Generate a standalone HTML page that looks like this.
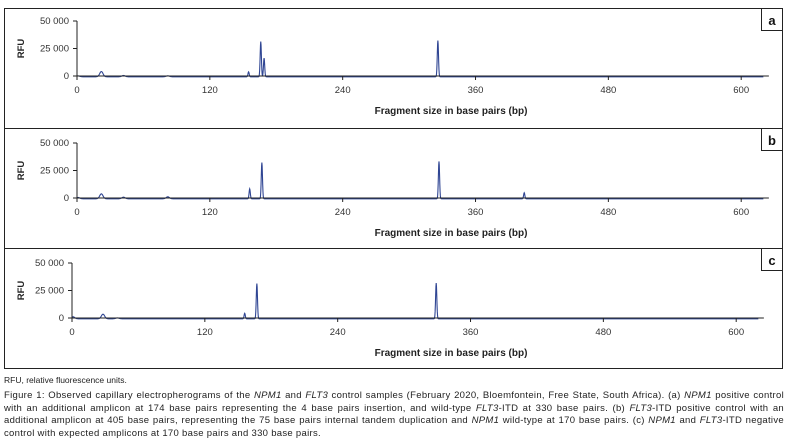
<!DOCTYPE html>
<html><head><meta charset="utf-8"><style>
body{margin:0;width:793px;height:447px;background:#fff;overflow:hidden;font-family:"Liberation Sans",sans-serif;}
svg{position:absolute;left:0;top:0}
.cap{position:absolute;left:4px;font-family:"Liberation Sans",sans-serif;color:#222;}
#note{top:375px;font-size:8.5px;}
#fig{top:390px;width:780px;font-size:9.5px;letter-spacing:0.3px;line-height:12.5px;text-align:justify;}
</style></head><body>
<svg id="chart" width="793" height="370"></svg>
<div id="note" class="cap">RFU, relative fluorescence units.</div>
<div id="fig" class="cap">Figure 1: Observed capillary electropherograms of the <i>NPM1</i> and <i>FLT3</i> control samples (February 2020, Bloemfontein, Free State, South Africa). (a) <i>NPM1</i> positive control with an additional amplicon at 174 base pairs representing the 4 base pairs insertion, and wild-type <i>FLT3</i>-ITD at 330 base pairs. (b) <i>FLT3</i>-ITD positive control with an additional amplicon at 405 base pairs, representing the 75 base pairs internal tandem duplication and <i>NPM1</i> wild-type at 170 base pairs. (c) <i>NPM1</i> and <i>FLT3</i>-ITD negative control with expected amplicons at 170 base pairs and 330 base pairs.</div>
<script>
const xTicks=[0,120,240,360,480,600];
const yTicks=[0,25000,50000];
const yTickLabels=["0","25 000","50 000"];
const panelLabels=["a","b","c"];
const peaksA_bp=[1,22,42,82,155,166,169,326];
const peaksA_h=[800,4800,1200,900,4500,32000,17000,33000];
const peaksB_bp=[1,22,42,82,156,167,327,404];
const peaksB_h=[1200,4500,1500,1800,9000,33000,34000,5500];
const peaksC_bp=[1,28,41,156,167,329];
const peaksC_h=[1800,4200,800,5000,32000,32500];
const NS="http://www.w3.org/2000/svg";
const svg=document.getElementById('chart');
function mk(t,a,p){const e=document.createElementNS(NS,t);for(const k in a)e.setAttribute(k,a[k]);(p||svg).appendChild(e);return e;}
const panels=[
 {top:8,bot:128,x0:77,y0:76,y50:21,bp:peaksA_bp,h:peaksA_h},
 {top:128,bot:248,x0:77,y0:198,y50:143,bp:peaksB_bp,h:peaksB_h},
 {top:248,bot:368,x0:72,y0:318,y50:263,bp:peaksC_bp,h:peaksC_h}];
const scale=1.107;
panels.forEach((P,i)=>{
 const g=mk('g',{});
 
 
 const xs=v=>P.x0+v*scale, ys=v=>P.y0-(v/50000)*(P.y0-P.y50);
 const box=mk('rect',{x:4.5,y:P.top+0.5,width:778,height:P.bot-P.top,fill:'none',stroke:'#222','stroke-width':1},g);
 
 const lb=mk('rect',{x:761.5,y:P.top+0.5,width:21,height:22,fill:'#fff',stroke:'#222','stroke-width':1},g);
 
 const lt=mk('text',{x:772,y:P.top+17,'text-anchor':'middle','font-size':13,'font-weight':'bold',fill:'#111'},g);
 lt.textContent=panelLabels[i];
 
 let d='';
 for(let x=0;x<=620;x+=0.25){
  let v=0;
  for(let k=0;k<P.bp.length;k++){const s=P.bp[k]<100?1.5:0.55;v+=P.h[k]*Math.exp(-((x-P.bp[k])**2)/(2*s*s));}
  d+=(x===0?'M':'L')+xs(x).toFixed(2)+','+(ys(v)+0.8).toFixed(2);
 }
 const tr=mk('path',{d:d,fill:'none',stroke:'#2f4593','stroke-width':1.1},g);
 
 const ya=mk('line',{x1:P.x0,y1:P.y50,x2:P.x0,y2:P.y0,stroke:'#222'},g);
 
 const xa=mk('line',{x1:P.x0,y1:P.y0,x2:xs(625),y2:P.y0,stroke:'#222'},g);
 
 yTicks.forEach((t,j)=>{
  mk('line',{x1:P.x0-4,y1:ys(t),x2:P.x0,y2:ys(t),stroke:'#222'},g);
  const tx=mk('text',{x:P.x0-8,y:ys(t)+3,'text-anchor':'end','font-size':9.5,fill:'#333'},g);
  tx.textContent=yTickLabels[j];
  
 });
 xTicks.forEach(t=>{
  mk('line',{x1:xs(t),y1:P.y0,x2:xs(t),y2:P.y0+4,stroke:'#222'},g);
  const tx=mk('text',{x:xs(t),y:P.y0+17,'text-anchor':'middle','font-size':9.5,fill:'#333'},g);
  tx.textContent=t;
  
 });
 const yt=mk('text',{x:0,y:0,transform:`translate(24,${(P.y0+P.y50)/2}) rotate(-90)`,'text-anchor':'middle','font-size':9.5,'font-weight':'bold',fill:'#222'},g);
 yt.textContent='RFU';
 
 const xt=mk('text',{x:451,y:P.y0+38,'text-anchor':'middle','font-size':10,'font-weight':'bold',fill:'#222'},g);
 xt.textContent='Fragment size in base pairs (bp)';
 
});
</script>
</body></html>
